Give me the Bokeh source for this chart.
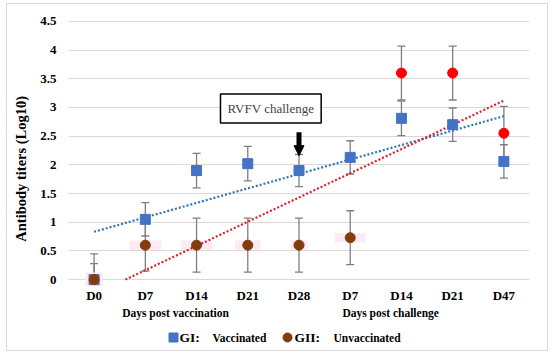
import numpy as np
from bokeh.plotting import figure
from bokeh.layouts import column
from bokeh.models import (ColumnDataSource, Whisker, TeeHead, Label, Arrow, NormalHead,
                          FixedTicker, NumeralTickFormatter, Range1d, LinearAxis)
from bokeh.core.properties import value
from bokeh.embed import file_html
from bokeh.resources import INLINE

# ---------------- data ----------------
categories = ["D0", "D7", "D14", "D21", "D28", "D7", "D14", "D21", "D47"]
gi_vaccinated = [0.0, 1.05, 1.90, 2.02, 1.90, 2.13, 2.81, 2.70, 2.06]
gi_error = [0.45, 0.29, 0.30, 0.30, 0.28, 0.29, 0.30, 0.29, 0.29]
gii_unvaccinated = [0.0, 0.60, 0.60, 0.60, 0.60, 0.73, 3.60, 3.60, 2.55]
gii_error = [0.28, 0.45, 0.47, 0.47, 0.47, 0.47, 0.47, 0.47, 0.47]
gii_colors = ["#843c0c"] * 6 + ["#ff0000"] * 3
y_ticks = [0, 0.5, 1, 1.5, 2, 2.5, 3, 3.5, 4, 4.5]
group_labels = ["Days post vaccination", "Days post challenge"]
group_centers = [1.59, 5.79]
series_keys = ["GI:", "GII:"]
series_names = ["Vaccinated", "Unvaccinated"]
y_title = "Antibody titers (Log10)"
annotation_text = "RVFV challenge"
challenge_index = 4

SERIF = "Liberation Serif"
BLUE = "#4472c4"
BROWN = "#843c0c"

x = np.arange(len(categories))
gi = np.array(gi_vaccinated)
gii = np.array(gii_unvaccinated)
gi_e = np.array(gi_error)
gii_e = np.array(gii_error)

p = figure(width=540, height=321, output_backend="svg", toolbar_location=None,
           x_range=Range1d(-0.5, 8.5), y_range=Range1d(-0.12, 4.55),
           min_border_left=61, min_border_right=18, min_border_top=14, min_border_bottom=39)
p.outline_line_color = None
p.background_fill_color = "white"
p.border_fill_color = "white"

# axes
p.xaxis.ticker = FixedTicker(ticks=list(x))
p.xaxis.major_label_overrides = {int(i): c for i, c in zip(x, categories)}
p.yaxis.ticker = FixedTicker(ticks=y_ticks)
p.yaxis.formatter = NumeralTickFormatter(format="0.[0]")
# trailing no-break spaces shift the title slightly below the frame centre, as in the original
p.yaxis.axis_label = y_title + "\u00a0" * 9
p.yaxis.axis_label_text_font = SERIF
p.yaxis.axis_label_text_font_style = "bold"
p.yaxis.axis_label_text_font_size = "14.5px"
p.yaxis.axis_label_text_color = "black"
p.yaxis.axis_label_standoff = 8

# second x axis carrying the group labels
gax = LinearAxis(ticker=FixedTicker(ticks=group_centers),
                 major_label_overrides={c: t for c, t in zip(group_centers, group_labels)})
p.add_layout(gax, "below")

for ax in (p.xaxis[0], p.yaxis[0], gax):
    ax.axis_line_color = None
    ax.major_tick_line_color = None
    ax.minor_tick_line_color = None
    ax.major_tick_out = 0
    ax.major_tick_in = 0
    ax.major_label_text_font = SERIF
    ax.major_label_text_font_style = "bold"
    ax.major_label_text_font_size = "13px"
    ax.major_label_text_color = "black"
gax.major_label_text_font_size = "11.5px"
gax.major_label_standoff = 1
p.xaxis[0].major_label_standoff = 1
p.yaxis.major_label_standoff = 12
p.xgrid.grid_line_color = None
p.ygrid.ticker = FixedTicker(ticks=y_ticks)
p.ygrid.grid_line_color = "#d9d9d9"
p.ygrid.grid_line_width = 1

# pink highlight behind unvaccinated points (first six)
pink_w = [0.33, 0.62, 0.62, 0.5, 0.33, 0.6]
pink_h = [0.25, 0.16, 0.16, 0.16, 0.16, 0.16]
p.rect(x=x[:6], y=gii[:6], width=pink_w, height=pink_h,
       fill_color="#feeaf4", line_color=None)

# error bars
def whisk(vals, errs):
    src = ColumnDataSource(dict(base=x, upper=vals + errs, lower=np.maximum(vals - errs, 0)))
    w = Whisker(source=src, base="base", upper="upper", lower="lower",
                line_color="#7f7f7f", line_width=1.3, level="underlay",
                upper_head=TeeHead(size=8, line_color="#7f7f7f", line_width=1.3),
                lower_head=TeeHead(size=8, line_color="#7f7f7f", line_width=1.3))
    p.add_layout(w)

whisk(gi, gi_e)
whisk(gii, gii_e)

# trend lines (linear regression of each series)
m1, b1 = np.polyfit(x, gi, 1)
p.line(x=[x[0], x[-1]], y=[m1 * x[0] + b1, m1 * x[-1] + b1],
       line_color="#2e75b6", line_width=2.2, line_dash="2 2")
m2, b2 = np.polyfit(x, gii, 1)
x0 = max(x[0], -b2 / m2)
p.line(x=[x0, x[-1]], y=[m2 * x0 + b2, m2 * x[-1] + b2],
       line_color="#e0202c", line_width=2.2, line_dash="2 2")

# markers
p.scatter(x=x, y=gi, marker="square", size=10, fill_color=BLUE, line_color=BLUE)
p.scatter(x=x, y=gii, marker="circle", size=10, fill_color=gii_colors, line_color=gii_colors)

# challenge annotation
p.add_layout(Label(x=3.45, y=2.98, text=annotation_text, text_font=SERIF,
                   text_font_size="13px", text_align="center", text_baseline="middle",
                   border_line_color="black", border_line_width=1.5,
                   background_fill_color="white", padding=7))
p.add_layout(Arrow(x_start=challenge_index, y_start=2.57, x_end=challenge_index, y_end=2.16,
                   line_width=5, line_color="black",
                   end=NormalHead(size=10, fill_color="black", line_color="black", line_width=1)))

# ---------------- legend strip (shares the x scale of the chart) ----------------
q = figure(width=540, height=25, output_backend="svg", toolbar_location=None,
           x_range=p.x_range, y_range=Range1d(0, 25),
           min_border_left=61, min_border_right=18, min_border_top=0, min_border_bottom=0)
q.axis.visible = False
q.grid.visible = False
q.outline_line_color = None
q.border_fill_color = "white"

ly = 13
key_x = [1.55, 3.776]
keylabel_x = [1.667, 3.912]
name_x = [2.311, 4.674]
q.scatter(x=[key_x[0]], y=[ly], marker="square", size=9, fill_color=BLUE, line_color=BLUE)
q.scatter(x=[key_x[1]], y=[ly], marker="circle", size=9, fill_color=BROWN, line_color=BROWN)
q.text(x=keylabel_x, y=[ly, ly], text=series_keys, text_font=value(SERIF),
       text_font_style="bold", text_font_size="13.5px", text_baseline="middle", text_align="left")
q.text(x=name_x, y=[ly, ly], text=series_names, text_font=value(SERIF),
       text_font_style="bold", text_font_size="11.5px", text_baseline="middle", text_align="left")

layout = column(p, q, spacing=0, margin=(3, 0, 0, 6),
                styles={"border": "1px solid #d9d9d9"})

open("out.html", "w").write(file_html(layout, INLINE))
